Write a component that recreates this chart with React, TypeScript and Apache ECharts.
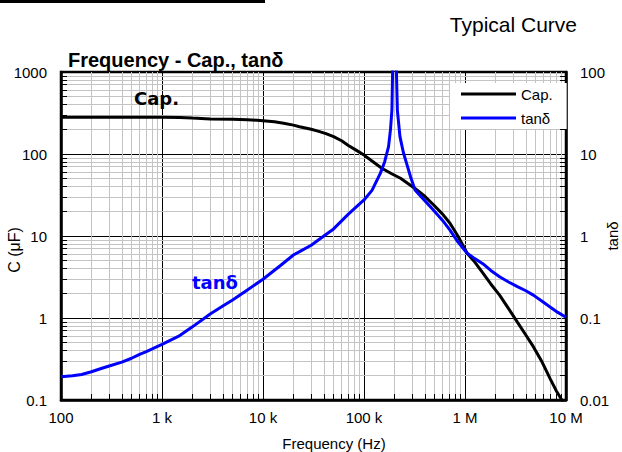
import React, { useEffect, useRef } from 'react';
import * as echarts from 'echarts';

// Capacitance curve (left axis, µF)
const capFreq = [100, 200, 500, 1000, 1500, 2000, 3000, 5000, 7000, 10000, 13000, 16000, 20000, 23000, 30000, 35000, 42000, 50000, 60000, 70000, 85000, 100000, 120000, 150000, 190000, 230000, 270000, 320000, 400000, 490000, 600000, 710000, 850000, 1050000, 1250000, 1500000, 1800000, 2200000, 2700000, 3300000, 4000000, 4750000, 5800000, 7000000, 8000000, 9100000, 10000000];
const capValues = [280, 280, 280, 280, 279, 274, 268, 265, 262, 255, 247, 237, 225, 215, 200, 190, 177, 163, 145, 127, 110, 97, 82, 67, 57, 50.6, 44, 38, 30.5, 23.9, 18.5, 14.3, 10, 6.15, 4.8, 3.54, 2.6, 1.9, 1.3, 0.89, 0.62, 0.447, 0.29, 0.18, 0.13, 0.1, 0.08];

// tanδ curve (right axis)
const tanFreq = [100, 130, 160, 200, 250, 300, 400, 500, 600, 700, 800, 1000, 1500, 2000, 3000, 4000, 5000, 7000, 10000, 15000, 20000, 23000, 30000, 37000, 50000, 70000, 100000, 120000, 145000, 160000, 175000, 183000, 189000, 195000, 205000, 214000, 227000, 245000, 264000, 290000, 320000, 400000, 486000, 600000, 710000, 850000, 1050000, 1250000, 1500000, 1800000, 2200000, 2700000, 3300000, 4000000, 4750000, 5800000, 6900000, 8300000, 10000000];
const tanValues = [0.0192, 0.0198, 0.0205, 0.0221, 0.0242, 0.026, 0.029, 0.0323, 0.036, 0.039, 0.042, 0.0478, 0.061, 0.078, 0.112, 0.14, 0.166, 0.22, 0.297, 0.44, 0.587, 0.644, 0.77, 0.93, 1.22, 1.85, 2.75, 3.6, 5.8, 8, 12.3, 20, 34.4, 300, 300, 34, 16.3, 10.5, 7.7, 5.2, 3.64, 2.7, 2.07, 1.55, 1.18, 0.85, 0.615, 0.53, 0.46, 0.38, 0.319, 0.275, 0.241, 0.215, 0.19, 0.16, 0.137, 0.117, 0.102];

const xTickLabels = ['100', '1 k', '10 k', '100 k', '1 M', '10 M'];
const yLeftTickLabels = ['0.1', '1', '10', '100', '1000'];
const yRightTickLabels = ['0.01', '0.1', '1', '10', '100'];

const xDecades = [100, 1000, 10000, 100000, 1000000];
const yDecades = [0.1, 1, 10, 100];
const minorSteps = [2, 3, 4, 5, 6, 7, 8, 9];

const FONT = '"Liberation Sans", Arial, sans-serif';
const BOLD_FONT2 = '"DejaVu Sans", Verdana, sans-serif';

export default function App() {
  const ref = useRef<HTMLDivElement>(null);

  useEffect(() => {
    if (!ref.current) return;
    const chart = echarts.init(ref.current, undefined, { renderer: 'svg' });

    const xMin = 100, xMax = 1e7, yMin = 0.1, yMax = 1000;
    const gridLeft = 61, gridRight = 56, gridTop = 72, gridBottom = 52;
    const pxPerDecX = (622 - gridLeft - gridRight) / 5;
    const pxPerDecY = (452 - gridTop - gridBottom) / 4;
    const tickLen = 6;
    const xTickFactor = Math.pow(10, tickLen / pxPerDecX);
    const yTickFactor = Math.pow(10, tickLen / pxPerDecY);

    const minorX: number[] = [];
    xDecades.forEach((d) => minorSteps.forEach((k) => minorX.push(d * k)));
    const minorY: number[] = [];
    yDecades.forEach((d) => minorSteps.forEach((k) => minorY.push(d * k)));

    const gray = { color: '#c4c4c4', width: 1, type: 'solid' as const };
    const black = { color: '#000', width: 1, type: 'solid' as const };

    const markData: any[] = [];
    minorX.forEach((v) => markData.push({ xAxis: v, lineStyle: gray }));
    minorY.forEach((v) => markData.push({ yAxis: v, lineStyle: gray }));
    minorX.forEach((v) =>
      markData.push([
        { coord: [v, yMin], lineStyle: black },
        { coord: [v, yMin * yTickFactor], lineStyle: black },
      ])
    );
    minorY.forEach((v) => {
      markData.push([
        { coord: [xMin, v], lineStyle: black },
        { coord: [xMin * xTickFactor, v], lineStyle: black },
      ]);
      markData.push([
        { coord: [xMax / xTickFactor, v], lineStyle: black },
        { coord: [xMax, v], lineStyle: black },
      ]);
    });

    const expIdx = (v: number, base: number) => Math.round(Math.log10(v) - base);

    chart.setOption({
      animation: false,
      backgroundColor: '#fff',
      grid: {
        left: gridLeft,
        right: gridRight,
        top: gridTop,
        bottom: gridBottom,
        show: true,
        borderColor: '#000',
        borderWidth: 2.5,
        backgroundColor: 'transparent',
        outerBoundsMode: 'none',
      },
      legend: {
        data: [
          { name: 'Cap.', icon: 'rect' },
          { name: 'tanδ', icon: 'rect' },
        ],
        orient: 'vertical',
        left: 450,
        top: 83,
        padding: [3, 14, 3, 11],
        itemWidth: 55,
        itemHeight: 3,
        itemGap: 8,
        backgroundColor: '#fff',
        z: 20,
        textStyle: { fontSize: 15, color: '#000', fontFamily: FONT, lineHeight: 16 },
      },
      xAxis: {
        type: 'log',
        logBase: 10,
        min: xMin,
        max: xMax,
        axisLine: { show: true, lineStyle: { color: '#000', width: 2.5 } },
        axisTick: { show: false },
        axisLabel: {
          color: '#000',
          fontSize: 15,
          fontFamily: FONT,
          margin: 10,
          formatter: (v: number) => xTickLabels[expIdx(v, 2)] ?? '',
        },
        splitLine: { show: true, lineStyle: { color: '#000', width: 1 } },
      },
      yAxis: [
        {
          type: 'log',
          logBase: 10,
          min: yMin,
          max: yMax,
          axisLine: { show: true, lineStyle: { color: '#000', width: 2.5 } },
          axisTick: { show: false },
          axisLabel: {
            color: '#000',
            fontSize: 15,
            fontFamily: FONT,
            margin: 14,
            formatter: (v: number) => yLeftTickLabels[expIdx(v, -1)] ?? '',
          },
          splitLine: { show: true, lineStyle: { color: '#000', width: 1 } },
        },
        {
          type: 'log',
          logBase: 10,
          min: 0.01,
          max: 100,
          position: 'right',
          axisLine: { show: true, lineStyle: { color: '#000', width: 2.5 } },
          axisTick: { show: false },
          axisLabel: {
            color: '#000',
            fontSize: 15,
            fontFamily: FONT,
            margin: 14,
            formatter: (v: number) => yRightTickLabels[expIdx(v, -2)] ?? '',
          },
          splitLine: { show: false },
        },
      ],
      series: [
        {
          name: 'Cap.',
          type: 'line',
          xAxisIndex: 0,
          yAxisIndex: 0,
          z: 10,
          symbol: 'none',
          data: capFreq.map((f, i) => [f, capValues[i]]),
          lineStyle: { color: '#000', width: 3 },
          itemStyle: { color: '#000' },
          markLine: {
            silent: true,
            symbol: ['none', 'none'],
            label: { show: false },
            emphasis: { disabled: true },
            lineStyle: gray,
            data: markData,
          },
        },
        {
          name: 'tanδ',
          type: 'line',
          xAxisIndex: 0,
          yAxisIndex: 1,
          z: 10,
          symbol: 'none',
          data: tanFreq.map((f, i) => [f, tanValues[i]]),
          lineStyle: { color: '#0000ff', width: 3 },
          itemStyle: { color: '#0000ff' },
        },
      ],
      graphic: [
        { type: 'rect', z: 20, shape: { x: 0, y: 0, width: 265, height: 3 }, style: { fill: '#000' } },
        {
          type: 'text', z: 20, x: 577, y: 24.4,
          style: { text: 'Typical Curve', fontSize: 21, fontFamily: FONT, fill: '#000', align: 'right', verticalAlign: 'middle' },
        },
        {
          type: 'text', z: 20, x: 68, y: 59.8,
          style: { text: 'Frequency - Cap., tanδ', fontSize: 20, fontWeight: 'bold', fontFamily: FONT, fill: '#000', align: 'left', verticalAlign: 'middle' },
        },
        {
          type: 'text', z: 20, x: 134, y: 98,
          style: { text: 'Cap.', fontSize: 18, fontWeight: 'bold', fontFamily: BOLD_FONT2, fill: '#000', align: 'left', verticalAlign: 'middle' },
        },
        {
          type: 'text', z: 20, x: 192, y: 282,
          style: { text: 'tanδ', fontSize: 18, fontWeight: 'bold', fontFamily: BOLD_FONT2, fill: '#0000ff', align: 'left', verticalAlign: 'middle' },
        },
        {
          type: 'text', z: 20, x: 14, y: 250, rotation: Math.PI / 2,
          style: { text: 'C (μF)', fontSize: 16, fontFamily: FONT, fill: '#000', align: 'center', verticalAlign: 'middle' },
        },
        {
          type: 'text', z: 20, x: 612, y: 236, rotation: Math.PI / 2,
          style: { text: 'tanδ', fontSize: 15, fontFamily: FONT, fill: '#000', align: 'center', verticalAlign: 'middle' },
        },
        {
          type: 'text', z: 20, x: 334, y: 443,
          style: { text: 'Frequency (Hz)', fontSize: 15, fontFamily: FONT, fill: '#000', align: 'center', verticalAlign: 'middle' },
        },
      ],
    });

    return () => chart.dispose();
  }, []);

  return (
    <div
      ref={ref}
      style={{ position: 'absolute', left: 0, top: 0, width: 622, height: 452, background: '#fff' }}
    />
  );
}
